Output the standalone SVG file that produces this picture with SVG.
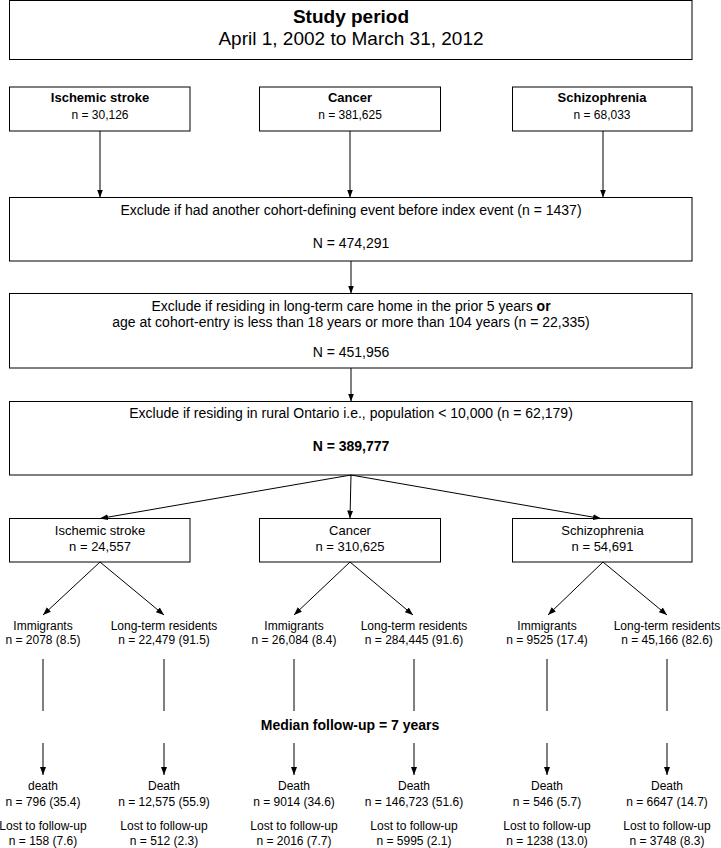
<svg xmlns="http://www.w3.org/2000/svg" width="721" height="848" viewBox="0 0 721 848">
<defs>
<style>
text{font-family:"Liberation Sans",Arial,sans-serif;fill:#000;text-anchor:middle}
.box{fill:#fff;stroke:#000;stroke-width:1}
.ln{stroke:#000;stroke-width:1;fill:none}
.arr{stroke:#000;stroke-width:1;fill:none;marker-end:url(#ah)}
.b{font-weight:bold}
.t19{font-size:19px}
.t14{font-size:14px}
.t13{font-size:13px}
.t12{font-size:12px}
</style>
<marker id="ah" viewBox="0 0 8 8" refX="8" refY="4" markerWidth="8" markerHeight="8" markerUnits="userSpaceOnUse" orient="auto">
<path d="M0,1 L8,4 L0,7 z" fill="#000"/>
</marker>
</defs>
<rect width="721" height="848" fill="#fff"/>

<g id="study-period">
<rect class="box" x="9.5" y="0.5" width="682.5" height="59"/>
<text class="t19 b" x="351" y="23">Study period</text>
<text class="t19" x="351" y="45">April 1, 2002 to March 31, 2012</text>
</g>

<g id="ischemic-stroke-1">
<rect class="box" x="9.5" y="87" width="180.5" height="44"/>
<text class="t13 b" x="100" y="102">Ischemic stroke</text>
<text class="t12" x="100" y="118.5">n = 30,126</text>
</g>
<g id="cancer-1">
<rect class="box" x="259.5" y="87" width="181" height="44"/>
<text class="t13 b" x="350" y="102">Cancer</text>
<text class="t12" x="350" y="118.5">n = 381,625</text>
</g>
<g id="schizophrenia-1">
<rect class="box" x="512.5" y="87" width="179.5" height="44"/>
<text class="t13 b" x="602" y="102">Schizophrenia</text>
<text class="t12" x="602" y="118.5">n = 68,033</text>
</g>

<g id="exclude-1">
<rect class="box" x="9.5" y="197.5" width="682.5" height="63.5"/>
<text class="t14" x="351" y="215">Exclude if had another cohort-defining event before index event (n = 1437)</text>
<text class="t14" x="351" y="248">N = 474,291</text>
</g>

<g id="exclude-2">
<rect class="box" x="9.5" y="293.5" width="682.5" height="74.5"/>
<text class="t14" x="351" y="311">Exclude if residing in long-term care home in the prior 5 years <tspan class="b">or</tspan></text>
<text class="t14" x="351" y="327">age at cohort-entry is less than 18 years or more than 104 years (n = 22,335)</text>
<text class="t14" x="351" y="357">N = 451,956</text>
</g>

<g id="exclude-3">
<rect class="box" x="9.5" y="401.5" width="682.5" height="73.5"/>
<text class="t14" x="351" y="418">Exclude if residing in rural Ontario i.e., population &lt; 10,000 (n = 62,179)</text>
<text class="t14 b" x="351" y="451">N = 389,777</text>
</g>

<g id="ischemic-stroke-2">
<rect class="box" x="9.5" y="518.5" width="180.5" height="43.5"/>
<text class="t13" x="100" y="535">Ischemic stroke</text>
<text class="t13" x="100" y="551">n = 24,557</text>
</g>
<g id="cancer-2">
<rect class="box" x="259.5" y="518.5" width="181" height="43.5"/>
<text class="t13" x="350" y="535">Cancer</text>
<text class="t13" x="350" y="551">n = 310,625</text>
</g>
<g id="schizophrenia-2">
<rect class="box" x="512.5" y="518.5" width="179.5" height="43.5"/>
<text class="t13" x="602.5" y="535">Schizophrenia</text>
<text class="t13" x="602.5" y="551">n = 54,691</text>
</g>

<g id="stroke-immigrants">
<text class="t12" x="43" y="630">Immigrants</text>
<text class="t12" x="43" y="644">n = 2078 (8.5)</text>
</g>
<g id="stroke-residents">
<text class="t12" x="164" y="630">Long-term residents</text>
<text class="t12" x="164" y="644">n = 22,479 (91.5)</text>
</g>
<g id="cancer-immigrants">
<text class="t12" x="294" y="630">Immigrants</text>
<text class="t12" x="294" y="644">n = 26,084 (8.4)</text>
</g>
<g id="cancer-residents">
<text class="t12" x="414" y="630">Long-term residents</text>
<text class="t12" x="414" y="644">n = 284,445 (91.6)</text>
</g>
<g id="schizo-immigrants">
<text class="t12" x="547" y="630">Immigrants</text>
<text class="t12" x="547" y="644">n = 9525 (17.4)</text>
</g>
<g id="schizo-residents">
<text class="t12" x="667" y="630">Long-term residents</text>
<text class="t12" x="667" y="644">n = 45,166 (82.6)</text>
</g>

<g id="median-follow-up">
<text class="t14 b" x="350" y="730">Median follow-up = 7 years</text>
</g>

<g id="stroke-immigrants-outcome">
<text class="t12" x="43" y="790">death</text>
<text class="t12" x="43" y="806">n = 796 (35.4)</text>
<text class="t12" x="43" y="830">Lost to follow-up</text>
<text class="t12" x="43" y="845">n = 158 (7.6)</text>
</g>
<g id="stroke-residents-outcome">
<text class="t12" x="164" y="790">Death</text>
<text class="t12" x="164" y="806">n = 12,575 (55.9)</text>
<text class="t12" x="164" y="830">Lost to follow-up</text>
<text class="t12" x="164" y="845">n = 512 (2.3)</text>
</g>
<g id="cancer-immigrants-outcome">
<text class="t12" x="294" y="790">Death</text>
<text class="t12" x="294" y="806">n = 9014 (34.6)</text>
<text class="t12" x="294" y="830">Lost to follow-up</text>
<text class="t12" x="294" y="845">n = 2016 (7.7)</text>
</g>
<g id="cancer-residents-outcome">
<text class="t12" x="414" y="790">Death</text>
<text class="t12" x="414" y="806">n = 146,723 (51.6)</text>
<text class="t12" x="414" y="830">Lost to follow-up</text>
<text class="t12" x="414" y="845">n = 5995 (2.1)</text>
</g>
<g id="schizo-immigrants-outcome">
<text class="t12" x="547" y="790">Death</text>
<text class="t12" x="547" y="806">n = 546 (5.7)</text>
<text class="t12" x="547" y="830">Lost to follow-up</text>
<text class="t12" x="547" y="845">n = 1238 (13.0)</text>
</g>
<g id="schizo-residents-outcome">
<text class="t12" x="667" y="790">Death</text>
<text class="t12" x="667" y="806">n = 6647 (14.7)</text>
<text class="t12" x="667" y="830">Lost to follow-up</text>
<text class="t12" x="667" y="845">n = 3748 (8.3)</text>
</g>

<g id="connectors">
<line class="arr" x1="100" y1="131" x2="100" y2="197.5"/>
<line class="arr" x1="350" y1="131" x2="350" y2="197.5"/>
<line class="arr" x1="603" y1="131" x2="603" y2="197.5"/>
<line class="arr" x1="351" y1="261" x2="351" y2="293.5"/>
<line class="arr" x1="351" y1="368" x2="351" y2="401.5"/>
<line class="arr" x1="351" y1="475" x2="100" y2="518.5"/>
<line class="arr" x1="351" y1="475" x2="350" y2="518.5"/>
<line class="arr" x1="351" y1="475" x2="601" y2="518.5"/>
<line class="arr" x1="100" y1="562" x2="43" y2="615"/>
<line class="arr" x1="100" y1="562" x2="164" y2="615"/>
<line class="arr" x1="350" y1="562" x2="294" y2="615"/>
<line class="arr" x1="350" y1="562" x2="413" y2="615"/>
<line class="arr" x1="603" y1="562" x2="548" y2="615"/>
<line class="arr" x1="603" y1="562" x2="667" y2="615"/>
<line class="ln" x1="43" y1="659" x2="43" y2="711"/>
<line class="ln" x1="164" y1="659" x2="164" y2="711"/>
<line class="ln" x1="294" y1="659" x2="294" y2="711"/>
<line class="ln" x1="414" y1="659" x2="414" y2="711"/>
<line class="ln" x1="547" y1="659" x2="547" y2="711"/>
<line class="ln" x1="667" y1="659" x2="667" y2="711"/>
<line class="arr" x1="43" y1="743" x2="43" y2="775"/>
<line class="arr" x1="164" y1="743" x2="164" y2="775"/>
<line class="arr" x1="294" y1="743" x2="294" y2="775"/>
<line class="arr" x1="414" y1="743" x2="414" y2="775"/>
<line class="arr" x1="547" y1="743" x2="547" y2="775"/>
<line class="arr" x1="667" y1="743" x2="667" y2="775"/>
</g>
</svg>
